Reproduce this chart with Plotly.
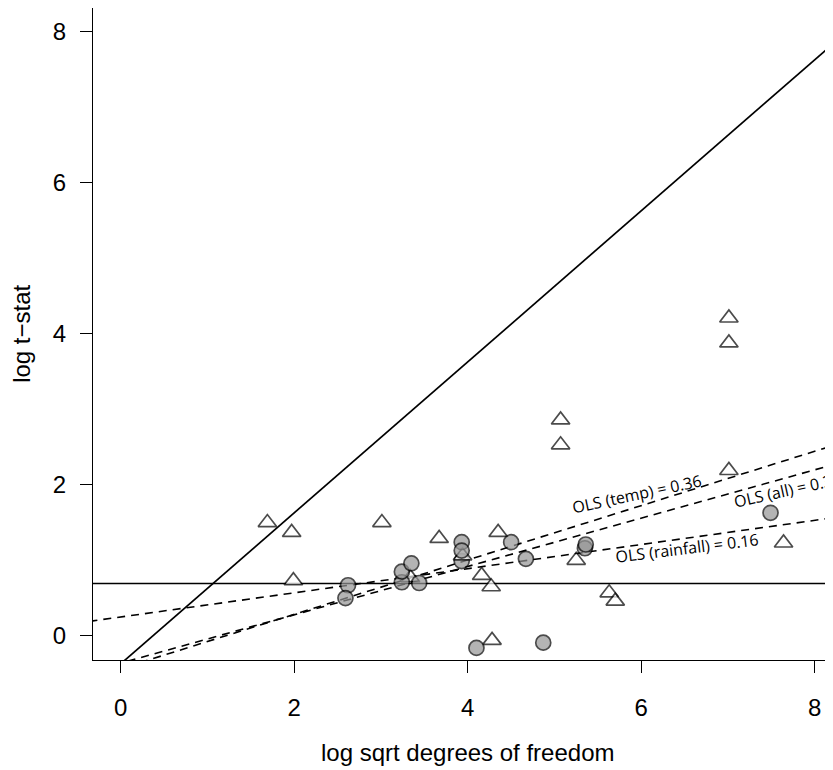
import plotly.graph_objects as go

# ---- data ----
tri_x = [1.69, 1.97, 1.99, 3.01, 3.67, 3.34, 3.94, 4.35, 4.16, 4.27, 5.07, 5.07,
         5.25, 4.28, 7.01, 7.01, 7.01, 7.64, 5.63, 5.70]
tri_y = [1.50, 1.37, 0.73, 1.50, 1.29, 0.77, 1.06, 1.37, 0.80, 0.65, 2.86, 2.53,
         1.00, -0.06, 4.21, 3.88, 2.19, 1.23, 0.57, 0.46]

circ_x = [3.93, 2.62, 2.59, 3.24, 3.24, 3.35, 3.44, 3.93, 3.93, 4.50, 4.67,
          4.10, 4.87, 5.35, 5.36, 7.49]
circ_y = [0.99, 0.67, 0.50, 0.71, 0.85, 0.96, 0.70, 1.24, 1.13, 1.24, 1.02,
          -0.16, -0.09, 1.16, 1.21, 1.63]

# reference lines: (intercept, slope)
diag_line = (-0.37, 1.0)
h_line = 0.693
ols_names = ["OLS (temp) = 0.36", "OLS (all) = 0.32", "OLS (rainfall) = 0.16"]
ols_intercepts = [-0.435, -0.361, 0.25]
ols_slopes = [0.36, 0.32, 0.16]
# label positions (data coords) and text angles
ols_lab_x = [5.945, 7.69, 6.53]
ols_lab_y = [1.885, 1.93, 1.165]
ols_lab_angle = [-12, -12.5, -7]

x_ticks = [0, 2, 4, 6, 8]
y_ticks = [0, 2, 4, 6, 8]
x_range = [-0.32, 8.21]
y_range = [-0.32, 8.316]

fig = go.Figure()

lx = [x_range[0] - 1, x_range[1] + 1]
# diagonal solid line
fig.add_trace(go.Scatter(x=lx, y=[diag_line[0] + diag_line[1] * v for v in lx],
                         mode="lines", line=dict(color="black", width=1.7),
                         hoverinfo="skip", showlegend=False))
# horizontal line
fig.add_trace(go.Scatter(x=lx, y=[h_line, h_line], mode="lines",
                         line=dict(color="black", width=1.6),
                         hoverinfo="skip", showlegend=False))
# OLS dashed lines
for a, b in zip(ols_intercepts, ols_slopes):
    fig.add_trace(go.Scatter(x=lx, y=[a + b * v for v in lx], mode="lines",
                             line=dict(color="black", width=1.6, dash="8px,6px"),
                             hoverinfo="skip", showlegend=False))

# points in drawing order: first circle, then triangles, then remaining circles
px = [circ_x[0]] + tri_x + circ_x[1:]
py = [circ_y[0]] + tri_y + circ_y[1:]
sym = ["circle"] + ["triangle-up"] * len(tri_x) + ["circle"] * (len(circ_x) - 1)
col = ["#959595"] + ["white"] * len(tri_x) + ["#959595"] * (len(circ_x) - 1)
siz = [15] + [16] * len(tri_x) + [15] * (len(circ_x) - 1)
fig.add_trace(go.Scatter(x=px, y=py, mode="markers",
                         marker=dict(symbol=sym, color=col, size=siz,
                                     line=dict(color="black", width=1.7)),
                         showlegend=False))

for name, x, y, ang in zip(ols_names, ols_lab_x, ols_lab_y, ols_lab_angle):
    fig.add_annotation(x=x, y=y, xref="x", yref="y", text=name, showarrow=False,
                       xanchor="center", yanchor="middle",
                       textangle=ang, font=dict(family="Open Sans", size=16, color="black"))

# axis titles
fig.add_annotation(x=4.0, xref="x", y=0, yref="paper", yshift=-92,
                   xanchor="center", yanchor="middle",
                   text="log sqrt degrees of freedom",
                   showarrow=False, font=dict(family="Liberation Sans", size=24, color="black"))
fig.add_annotation(x=0, xref="paper", xshift=-71, y=4.0, yref="y", text="log t\u2212stat",
                   xanchor="center", yanchor="middle",
                   textangle=-90, showarrow=False,
                   font=dict(family="Liberation Sans", size=24, color="black"))

axis_common = dict(showgrid=False, zeroline=False, showline=True, linecolor="black",
                   linewidth=1.4, ticks="outside", ticklen=12, tickwidth=1.4,
                   tickcolor="black", tickfont=dict(family="Liberation Sans", size=24, color="black"))
fig.update_xaxes(range=x_range, tickvals=x_ticks, mirror=True, ticklabelstandoff=14, **axis_common)
fig.update_yaxes(range=y_range, tickvals=y_ticks, mirror=False, ticklabelstandoff=9, **axis_common)

# the page body has an 8px margin, so offset accordingly
fig.update_layout(width=825, height=762, margin=dict(l=85, r=0, t=0, b=110),
                  plot_bgcolor="white", paper_bgcolor="white")

fig.write_html("out.html")
